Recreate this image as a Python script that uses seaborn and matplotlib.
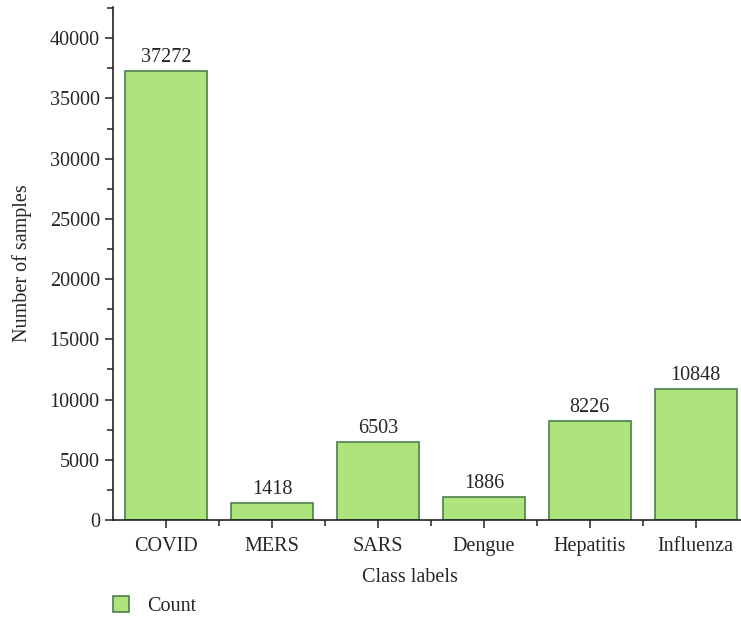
import matplotlib
matplotlib.use("Agg")
import matplotlib.pyplot as plt
import seaborn as sns
import pandas as pd
from matplotlib.ticker import MultipleLocator, FixedLocator

# Daten
classes = ["COVID", "MERS", "SARS", "Dengue", "Hepatitis", "Influenza"]
counts = [37272, 1418, 6503, 1886, 8226, 10848]

df = pd.DataFrame({"Class labels": classes, "Number of samples": counts})

sns.set_style("ticks")
plt.rcParams["font.family"] = ["Liberation Serif", "DejaVu Serif"]
fs = 14.5

fig = plt.figure(figsize=(7.41, 6.22), dpi=100)
ax = fig.add_axes([0.1525, 0.164, 0.858, 0.8248])

sns.barplot(data=df, x="Class labels", y="Number of samples", color="#ade47c",
            saturation=1, edgecolor="#4e7f4e", linewidth=1.2, width=0.77,
            label="Count", ax=ax)

# Beschriftung über den Balken
ax.bar_label(ax.containers[0], fmt="%d", padding=3, fontsize=fs)

ax.set_xlim(-0.5, 5.5)
ax.set_ylim(0, 42600)
ax.yaxis.set_major_locator(MultipleLocator(5000))
ax.yaxis.set_minor_locator(MultipleLocator(2500))
ax.xaxis.set_minor_locator(FixedLocator([0.5, 1.5, 2.5, 3.5, 4.5]))
ax.tick_params(axis="both", which="major", direction="out", length=6, width=1.1,
               labelsize=fs, color="#222222")
ax.tick_params(axis="both", which="minor", direction="out", length=4, width=1.1,
               color="#222222")
ax.tick_params(axis="x", pad=6)

for s in ["top", "right"]:
    ax.spines[s].set_visible(False)
for s in ["left", "bottom"]:
    ax.spines[s].set_linewidth(1.2)
    ax.spines[s].set_color("#222222")

ax.set_xlabel("Class labels", fontsize=fs)
ax.set_ylabel("Number of samples", fontsize=fs)
ax.xaxis.set_label_coords(0.467, -0.093)
ax.yaxis.set_label_coords(-0.128, 0.5)

ax.legend(loc="lower left", bbox_to_anchor=(113 / 741, 6 / 622), bbox_transform=fig.transFigure,
          frameon=False, fontsize=fs, handlelength=0.8, handleheight=0.8,
          borderpad=0, borderaxespad=0, handletextpad=0.9)

fig.savefig("out.png", dpi=100)
